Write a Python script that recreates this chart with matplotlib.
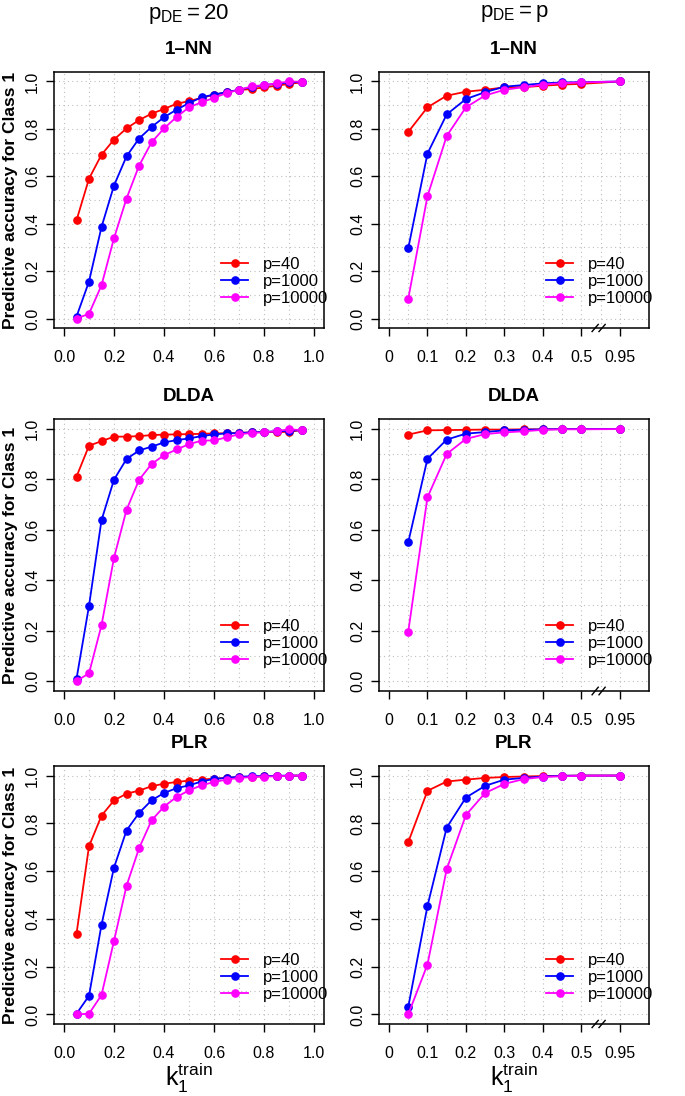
import numpy as np
import matplotlib
matplotlib.use("Agg")
import matplotlib.pyplot as plt

plt.rcParams['font.family'] = ['Liberation Sans', 'DejaVu Sans']
plt.rcParams['mathtext.fontset'] = 'custom'
plt.rcParams['mathtext.rm'] = 'Liberation Sans'
plt.rcParams['mathtext.it'] = 'Liberation Sans'

# ---------------- data ----------------
k_left = [0.05, 0.10, 0.15, 0.20, 0.25, 0.30, 0.35, 0.40, 0.45, 0.50,
          0.55, 0.60, 0.65, 0.70, 0.75, 0.80, 0.85, 0.90, 0.95]
k_right = [0.05, 0.10, 0.15, 0.20, 0.25, 0.30, 0.35, 0.40, 0.45, 0.50, 0.95]
right_tick_labels = ['0', '0.1', '0.2', '0.3', '0.4', '0.5', '0.95']
left_tick_labels = ['0.0', '0.2', '0.4', '0.6', '0.8', '1.0']
series_labels = ['p=40', 'p=1000', 'p=10000']
series_colors = ['#FF0000', '#0000FF', '#FF00FF']
methods = ['1\u2013NN', 'DLDA', 'PLR']

# 1-NN, p_DE = 20
nn_l_p40 = [0.414, 0.590, 0.691, 0.755, 0.802, 0.837, 0.864, 0.884, 0.906, 0.917,
            0.931, 0.944, 0.954, 0.964, 0.968, 0.975, 0.982, 0.990, 0.996]
nn_l_p1000 = [0.008, 0.156, 0.386, 0.561, 0.684, 0.759, 0.808, 0.849, 0.881, 0.909,
              0.933, 0.945, 0.955, 0.965, 0.976, 0.985, 0.990, 0.996, 0.998]
nn_l_p10000 = [0.000, 0.020, 0.140, 0.339, 0.506, 0.644, 0.743, 0.802, 0.850, 0.891,
               0.912, 0.931, 0.951, 0.965, 0.979, 0.985, 0.992, 1.000, 0.999]
# 1-NN, p_DE = p
nn_r_p40 = [0.787, 0.891, 0.940, 0.957, 0.965, 0.975, 0.976, 0.982, 0.987, 0.990, 1.000]
nn_r_p1000 = [0.296, 0.696, 0.861, 0.926, 0.955, 0.978, 0.985, 0.992, 0.996, 0.997, 1.000]
nn_r_p10000 = [0.083, 0.516, 0.770, 0.891, 0.941, 0.965, 0.976, 0.987, 0.993, 0.996, 1.000]

# DLDA, p_DE = 20
dl_l_p40 = [0.811, 0.934, 0.952, 0.970, 0.970, 0.972, 0.976, 0.978, 0.979, 0.980,
            0.981, 0.983, 0.983, 0.985, 0.987, 0.988, 0.988, 0.989, 0.996]
dl_l_p1000 = [0.008, 0.298, 0.638, 0.799, 0.881, 0.915, 0.930, 0.947, 0.956, 0.963,
              0.972, 0.979, 0.983, 0.984, 0.987, 0.989, 0.991, 0.993, 0.996]
dl_l_p10000 = [0.000, 0.030, 0.221, 0.489, 0.679, 0.798, 0.861, 0.896, 0.919, 0.940,
               0.954, 0.955, 0.967, 0.979, 0.985, 0.987, 0.992, 0.999, 0.996]
# DLDA, p_DE = p
dl_r_p40 = [0.978, 0.995, 0.996, 0.997, 0.998, 0.998, 0.999, 0.999, 1.000, 1.000, 1.000]
dl_r_p1000 = [0.550, 0.882, 0.958, 0.982, 0.988, 0.995, 0.997, 0.999, 1.000, 1.000, 1.000]
dl_r_p10000 = [0.195, 0.729, 0.901, 0.961, 0.980, 0.987, 0.991, 0.997, 0.999, 0.999, 1.000]

# PLR, p_DE = 20
pl_l_p40 = [0.338, 0.704, 0.832, 0.896, 0.924, 0.937, 0.955, 0.966, 0.973, 0.979,
            0.983, 0.987, 0.990, 0.993, 0.995, 0.997, 0.998, 0.999, 1.000]
pl_l_p1000 = [0.003, 0.078, 0.375, 0.615, 0.770, 0.843, 0.896, 0.927, 0.947, 0.959,
              0.975, 0.986, 0.990, 0.995, 0.997, 0.998, 0.999, 1.000, 1.000]
pl_l_p10000 = [0.000, 0.003, 0.081, 0.308, 0.538, 0.695, 0.812, 0.870, 0.910, 0.938,
               0.959, 0.973, 0.983, 0.990, 0.994, 0.996, 0.997, 0.999, 1.000]
# PLR, p_DE = p
pl_r_p40 = [0.721, 0.936, 0.975, 0.983, 0.990, 0.994, 0.996, 0.998, 0.999, 1.000, 1.000]
pl_r_p1000 = [0.031, 0.454, 0.782, 0.908, 0.957, 0.983, 0.990, 0.996, 0.999, 1.000, 1.000]
pl_r_p10000 = [0.000, 0.209, 0.608, 0.835, 0.927, 0.965, 0.985, 0.994, 0.997, 0.999, 1.000]

left_data = [[nn_l_p40, nn_l_p1000, nn_l_p10000],
             [dl_l_p40, dl_l_p1000, dl_l_p10000],
             [pl_l_p40, pl_l_p1000, pl_l_p10000]]
right_data = [[nn_r_p40, nn_r_p1000, nn_r_p10000],
              [dl_r_p40, dl_r_p1000, dl_r_p10000],
              [pl_r_p40, pl_r_p1000, pl_r_p10000]]


def right_pos(k):
    # broken axis: 0..0.5 linear, 0.95 placed at position 6
    k = np.asarray(k, dtype=float)
    return np.where(k <= 0.5, k * 10.0, 6.0)


# ---------------- layout (pixels) ----------------
W, H = 685, 1096
fig = plt.figure(figsize=(W / 100, H / 100), dpi=100)

rows_px = [(72, 328), (419, 691), (766, 1024)]
cols_px = [(54, 324), (379, 649)]

TICK_FS = 11.5
LEG_FS = 12

for r, (top, bot) in enumerate(rows_px):
    for c, (lft, rgt) in enumerate(cols_px):
        ax = fig.add_axes([lft / W, 1 - bot / H, (rgt - lft) / W, (bot - top) / H])
        ax.set_ylim(-0.04, 1.04)
        ax.set_yticks(np.arange(0, 1.01, 0.2))
        ax.set_yticklabels(left_tick_labels, rotation=90, va='center')
        for yv in np.arange(0, 1.001, 0.1):
            ax.axhline(yv, color='#BEBEBE', lw=0.8, ls=(0, (1, 3)), zorder=0)
        if c == 0:
            ax.set_xlim(-0.04, 1.04)
            ax.set_xticks(np.arange(0, 1.01, 0.2))
            ax.set_xticklabels(left_tick_labels)
            for xv in np.arange(0, 1.001, 0.1):
                ax.axvline(xv, color='#BEBEBE', lw=0.8, ls=(0, (1, 3)), zorder=0)
            xs = np.asarray(k_left)
            data = left_data[r]
        else:
            ax.set_xlim(-0.26, 6.76)
            ax.set_xticks(np.arange(0, 7))
            ax.set_xticklabels(right_tick_labels)
            for xv in np.arange(0, 6.01, 0.5):
                ax.axvline(xv, color='#BEBEBE', lw=0.8, ls=(0, (1, 3)), zorder=0)
            xs = right_pos(k_right)
            data = right_data[r]
        for ys, col, lab in zip(data, series_colors, series_labels):
            ax.plot(xs, ys, color=col, lw=1.3, marker='o', ms=5.2,
                    markeredgecolor=col, markerfacecolor=col, label=lab, zorder=3)
        ax.tick_params(axis='both', direction='out', length=6, width=1,
                       labelsize=TICK_FS, pad=4, top=False, right=False)
        ax.tick_params(axis='x', pad=10)
        for s in ax.spines.values():
            s.set_linewidth(1.1)
        ax.set_title(methods[r], fontsize=13.5, fontweight='bold', pad=13)
        ax.legend(loc='lower left', bbox_to_anchor=(0.595, 0.06), frameon=False,
                  fontsize=LEG_FS, handlelength=1.6, handletextpad=0.9,
                  labelspacing=0.12, borderaxespad=0, numpoints=1)
        if c == 0:
            ax.set_ylabel('Predictive accuracy for Class 1', fontsize=12.5,
                          fontweight='bold', labelpad=5)
        else:
            for dx in (-0.09, 0.09):
                ax.plot([5.37 + dx, 5.53 + dx], [-0.055, -0.025], color='black',
                        lw=1.0, clip_on=False, zorder=5)
        if r == 2:
            ax.set_xlabel(r'$\mathregular{k_1^{train}}$', fontsize=18, labelpad=0)

fig.text(189 / W, 1 - 14 / H, r'$\mathregular{p_{DE}=20}$', ha='center', va='center', fontsize=16)
fig.text(514 / W, 1 - 14 / H, r'$\mathregular{p_{DE}=p}$', ha='center', va='center', fontsize=16)

fig.savefig('out.png', dpi=100)
